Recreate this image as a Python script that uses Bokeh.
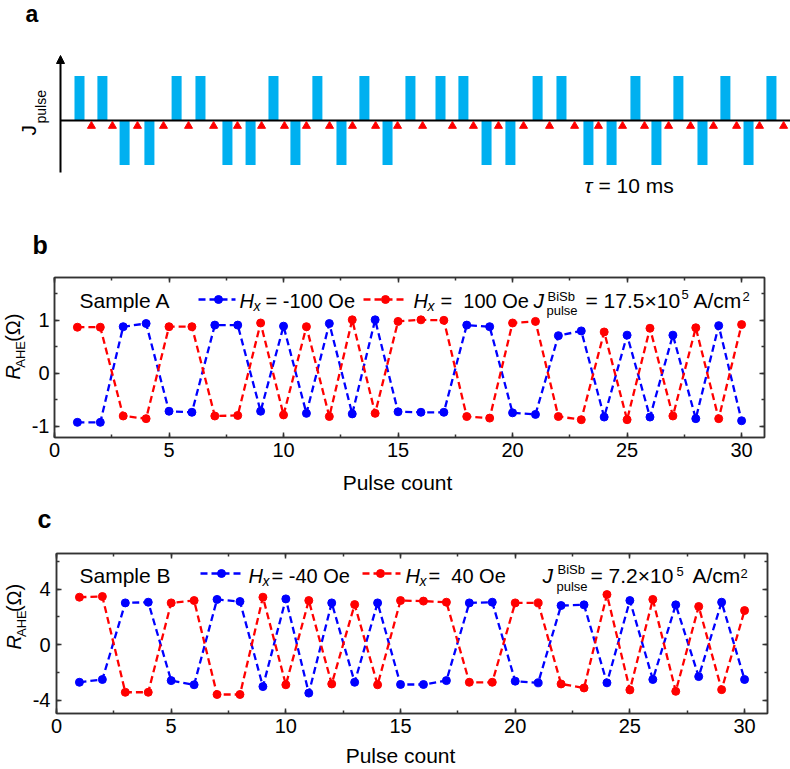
from math import pi
from bokeh.plotting import figure
from bokeh.layouts import column, row
from bokeh.models import (ColumnDataSource, Label, Arrow, NormalHead, LinearAxis,
                          SingleIntervalTicker, CustomJSTickFormatter)
from bokeh.embed import file_html
from bokeh.resources import INLINE

FONT = "Liberation Sans"
BLUE = "#0000FF"
RED = "#FF0000"
PULSE_BLUE = "#00B0F0"
FRAME = "#333333"
NB = "\u00a0"

# panel a: pulse train (time in units of tau) and read-out instants
pulse_time = [1.0, 1.96, 2.89, 3.93, 5.07, 6.07, 7.20, 8.17, 9.13, 10.05,
              10.97, 11.98, 12.94, 13.91, 14.87, 16.13, 17.09, 18.06, 19.06, 20.20,
              21.20, 22.33, 23.30, 24.30, 25.18, 26.10, 27.11, 28.07, 29.04, 30.0]
pulse_sign = [1, 1, -1, -1, 1, 1, -1, -1, 1, -1, 1, -1, 1, -1, 1,
              1, 1, -1, -1, 1, 1, -1, -1, 1, -1, 1, -1, 1, -1, 1]
read_time = [1.50, 2.38, 3.43, 4.52, 5.57, 6.62, 7.62, 8.63, 9.59, 10.51,
             11.48, 12.44, 13.41, 14.33, 15.38, 16.63, 17.51, 18.56, 19.61, 20.70,
             21.75, 22.75, 23.76, 24.68, 25.69, 26.61, 27.57, 28.54, 29.50, 30.51]

pulse_count = list(range(1, 31))

# panel b: sample A, R_AHE (Ohm)
rA_hx_m100 = [-0.93, -0.93, 0.88, 0.94, -0.72, -0.74, 0.91, 0.91, -0.72, 0.89,
              -0.76, 0.94, -0.77, 1.01, -0.73, -0.74, -0.74, 0.91, 0.88, -0.75,
              -0.78, 0.71, 0.80, -0.83, 0.72, -0.83, 0.72, -0.86, 0.90, -0.90]
rA_hx_p100 = [0.87, 0.87, -0.81, -0.86, 0.88, 0.88, -0.81, -0.80, 0.95, -0.79,
              0.88, -0.82, 1.01, -0.76, 0.98, 1.01, 1.00, -0.82, -0.85, 0.95,
              0.98, -0.82, -0.88, 0.78, -0.88, 0.85, -0.81, 0.86, -0.86, 0.92]

# panel c: sample B, R_AHE (Ohm)
rB_hx_m40 = [-2.72, -2.52, 3.00, 3.05, -2.60, -2.90, 3.25, 3.10, -3.03, 3.29,
             -3.50, 3.00, -2.72, 3.00, -2.88, -2.88, -2.60, 3.00, 3.05, -2.64,
             -2.76, 2.81, 2.86, -2.76, 3.17, -2.52, 2.86, -2.31, 3.05, -2.52]
rB_hx_p40 = [3.41, 3.46, -3.44, -3.44, 3.00, 3.17, -3.60, -3.60, 3.41, -2.90,
             3.17, -2.84, 2.88, -2.90, 3.17, 3.13, 3.05, -2.72, -2.72, 3.00,
             3.00, -2.84, -3.13, 3.60, -3.27, 3.25, -3.37, 2.74, -3.25, 2.45]

W = 790


def converter(page_left, page_top, fw, fh, xr, yr):
    def conv(px, py):
        x = xr[0] + (px - page_left) / fw * (xr[1] - xr[0])
        y = yr[1] - (py - page_top) / fh * (yr[1] - yr[0])
        return x, y
    return conv


def put(p, conv, px, py, text, size=21, style="normal", angle=0, align="left"):
    # labels land about a third of an em below/right of the asked baseline
    if angle:
        px -= 0.32 * size
    else:
        py -= 0.32 * size
    x, y = conv(px, py)
    p.add_layout(Label(x=x, y=y, text=text, text_font=FONT, text_font_size=f"{size}px",
                       text_font_style=style, text_color="black", angle=angle,
                       text_align=align, text_baseline="alphabetic"))


def bare(width, height, xr, yr):
    p = figure(width=width, height=height, x_range=xr, y_range=yr, tools="",
               toolbar_location=None, output_backend="svg", min_border=0)
    p.axis.visible = False
    p.grid.visible = False
    p.outline_line_color = None
    return p


def strip(page_left, page_top, width, height, labels):
    # a blank drawing area for texts that sit outside the data frames
    p = bare(width, height, (page_left, page_left + width), (-(page_top + height), -page_top))
    conv = lambda px, py: (px, -py)
    for args, kw in labels:
        put(p, conv, *args, **kw)
    return p


# ---------------- panel a ----------------
T1_PX, PX_PER_T = 79, 23.86     # page x of pulse 1, px per tau
AXIS_PY, PX_PER_J = 120, 44.5
HA = 268
xr_a = ((0 - T1_PX) / PX_PER_T + 1, (W - T1_PX) / PX_PER_T + 1)
yr_a = ((AXIS_PY - HA) / PX_PER_J, AXIS_PY / PX_PER_J)
ca = converter(0, 0, W, HA, xr_a, yr_a)

pa = bare(W, HA, xr_a, yr_a)
pa.vbar(x=pulse_time, top=pulse_sign, bottom=0, width=0.42,
        fill_color=PULSE_BLUE, line_color=None)
x_ax, _ = ca(60, 0)
pa.segment(x0=[x_ax], y0=[0], x1=[xr_a[1]], y1=[0], line_color="black", line_width=2)
_, y_bot = ca(0, 172)
_, y_top = ca(0, 55)
pa.add_layout(Arrow(end=NormalHead(size=8, fill_color="black", line_color="black"),
                    x_start=x_ax, y_start=y_bot, x_end=x_ax, y_end=y_top,
                    line_color="black", line_width=2))
_, y_tri = ca(0, 125.5)
pa.scatter(x=read_time, y=[y_tri] * len(read_time), marker="triangle", size=8,
           color=RED)

put(pa, ca, 25, 21, "a", size=23, style="bold")
put(pa, ca, 35, 135, "J", size=21, angle=pi / 2)
put(pa, ca, 45, 123, "pulse", size=14, angle=pi / 2)
put(pa, ca, 584, 192, "τ", size=21, style="italic")
put(pa, ca, 598, 192, "= 10 ms", size=21)
put(pa, ca, 32, 252, "b", size=25, style="bold")


# ---------------- panels b, c ----------------
def data_panel(page_top, height, page_left, fig_left, fw, page_ftop, yr, y_step,
               blue, red, txt):
    xr = (0, 31)
    width = W - fig_left
    conv = converter(page_left, page_ftop, fw, 160, xr, yr)
    left = page_left - fig_left
    top = page_ftop - page_top
    p = figure(width=width, height=height, x_range=xr, y_range=yr, tools="",
               toolbar_location=None, output_backend="svg",
               min_border_left=left, min_border_right=width - left - fw,
               min_border_top=top, min_border_bottom=height - top - 160)
    p.grid.visible = False
    p.outline_line_color = FRAME
    p.outline_line_width = 1.5

    p.xaxis.ticker = SingleIntervalTicker(interval=5, num_minor_ticks=2)
    p.yaxis.ticker = SingleIntervalTicker(interval=y_step, num_minor_ticks=2)
    p.yaxis.formatter = CustomJSTickFormatter(code="return tick.toString()")
    top_ax = LinearAxis(ticker=SingleIntervalTicker(interval=5, num_minor_ticks=2),
                        formatter=CustomJSTickFormatter(code="return ''"))
    right_ax = LinearAxis(ticker=SingleIntervalTicker(interval=y_step, num_minor_ticks=2),
                          formatter=CustomJSTickFormatter(code="return ''"))
    p.add_layout(top_ax, "above")
    p.add_layout(right_ax, "right")
    for ax in p.axis:
        ax.major_tick_in = 5
        ax.major_tick_out = 0
        ax.minor_tick_in = 3
        ax.minor_tick_out = 0
        ax.axis_line_color = FRAME
        ax.axis_line_width = 1.5
        ax.major_tick_line_color = FRAME
        ax.minor_tick_line_color = FRAME
        ax.major_tick_line_width = 1.5
        ax.minor_tick_line_width = 1.5
        ax.major_label_text_font = FONT
        ax.major_label_text_font_size = "20px"
        ax.major_label_text_color = "black"
    for ax in (top_ax, right_ax):
        ax.major_label_text_font_size = "0px"
        ax.major_label_standoff = 0
    p.xaxis[0].major_label_standoff = txt["xstand"]
    p.yaxis[0].major_label_standoff = txt["ystand"]

    src = ColumnDataSource(data=dict(n=pulse_count, blue=blue, red=red))
    for col, c in (("blue", BLUE), ("red", RED)):
        p.line("n", col, source=src, line_color=c, line_width=2.3, line_dash="7 4")
        p.scatter("n", col, source=src, size=8, color=c)

    # legend swatches
    for (xa, xb, xd, py), c in zip(txt["swatch"], (BLUE, RED)):
        (x0, y0), (x1, _), (xm, _) = conv(xa, py), conv(xb, py), conv(xd, py)
        p.segment(x0=[x0], y0=[y0], x1=[x1], y1=[y0], line_color=c, line_width=2.3,
                  line_dash="7 4")
        p.scatter(x=[xm], y=[y0], size=8, color=c)

    for args, kw in txt["labels"]:
        put(p, conv, *args, **kw)
    side = strip(0, page_top, fig_left, height, txt["side"])
    return row(side, p, spacing=0)


IT = {"size": 20, "style": "italic"}
LEG = {"size": 20}
SUB = {"size": 13}
XSUB = {"size": 14, "style": "italic"}
ROT = {"size": 20, "angle": pi / 2}
ROT_IT = {"size": 20, "style": "italic", "angle": pi / 2}
ROT_SUB = {"size": 13, "angle": pi / 2}
J_IT = {"style": "italic"}

txt_b = {
    "xstand": 9, "ystand": 5,
    "swatch": [(198, 235, 218, 299), (363, 403, 385, 299)],
    "labels": [
        ((79, 307, "Sample A"), {}),
        ((239, 307, "H"), IT),
        ((253, 310, "x"), XSUB),
        ((265, 307, "= -100 Oe"), LEG),
        ((413, 307, "H"), IT),
        ((427, 310, "x"), XSUB),
        ((440, 307, "= " + NB + "100 Oe"), LEG),
        ((533, 307, "J"), J_IT),
        ((547, 300, "BiSb"), SUB),
        ((546, 314, "pulse"), SUB),
        ((585, 307, "= 17.5×10"), {}),
        ((681, 298, "5"), SUB),
        ((693, 307, "A/cm"), {}),
        ((742, 300, "2"), SUB),
    ],
    "side": [
        ((19, 398, "R"), ROT_IT),
        ((24, 383, "AHE"), ROT_SUB),
        ((19, 350, "(Ω)"), ROT),
    ],
}

txt_c = {
    "xstand": 7, "ystand": 6,
    "swatch": [(200, 240, 221, 573), (362, 400, 380, 573)],
    "labels": [
        ((79, 582, "Sample B"), {}),
        ((248, 582, "H"), IT),
        ((262, 585, "x"), XSUB),
        ((271, 582, "= -40 Oe"), LEG),
        ((405, 582, "H"), IT),
        ((419, 585, "x"), XSUB),
        ((428, 582, "= " + NB + "40 Oe"), LEG),
        ((542, 582, "J"), J_IT),
        ((557, 573, "BiSb"), SUB),
        ((556, 590, "pulse"), SUB),
        ((590, 582, "= 7.2×10"), {}),
        ((676, 575, "5"), SUB),
        ((692, 582, "A/cm"), {}),
        ((740, 577, "2"), SUB),
    ],
    "side": [
        ((19.5, 663, "R"), ROT_IT),
        ((25, 647, "AHE"), ROT_SUB),
        ((19.5, 615, "(Ω)"), ROT),
    ],
}

rb = data_panel(268, 204, 54, 27, 710, 277, (-1.217, 1.811), 1,
                rA_hx_m100, rA_hx_p100, txt_b)
s_bc = strip(0, 472, W, 68, [
    ((397, 489, "Pulse count"), {"align": "center"}),
    ((37, 526, "c"), {"size": 25, "style": "bold"}),
])
rc = data_panel(540, 205, 56, 28, 711, 553, (-4.97, 6.56), 4,
                rB_hx_m40, rB_hx_p40, txt_c)
s_c = strip(0, 745, W, 24, [
    ((400, 762, "Pulse count"), {"align": "center"}),
])

layout = column(pa, rb, s_bc, rc, s_c, spacing=0)
open("out.html", "w").write(file_html(layout, INLINE))
